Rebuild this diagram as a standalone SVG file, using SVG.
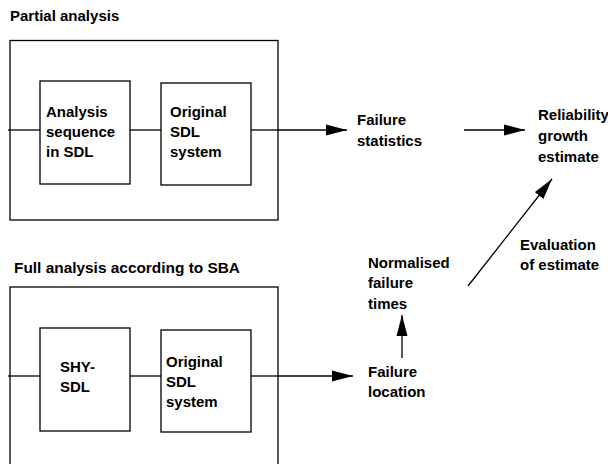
<svg xmlns="http://www.w3.org/2000/svg" width="608" height="464" viewBox="0 0 608 464">
<defs>
<style>
text{font-family:"Liberation Sans",Arial,sans-serif;font-size:15px;font-weight:bold;fill:#000}
.box{fill:none;stroke:#000;stroke-width:1.3}
.ln{fill:none;stroke:#000;stroke-width:1.3}
</style>
<marker id="ah" markerUnits="userSpaceOnUse" markerWidth="22" markerHeight="12" refX="21" refY="6" orient="auto">
<path d="M0,0.5 L21,6 L0,11.5 Z" fill="#000"/>
</marker>
</defs>
<rect width="608" height="464" fill="#fff"/>
<g id="partial">
<text x="10" y="21">Partial analysis</text>
<rect class="box" x="10" y="40.5" width="268" height="179.5"/>
</g>
<g id="analysis-seq">
<rect class="box" x="40" y="81" width="90" height="103"/>
<text x="46" y="117">Analysis</text>
<text x="46" y="137">sequence</text>
<text x="46" y="157">in SDL</text>
</g>
<g id="orig1">
<rect class="box" x="161" y="83" width="90" height="102"/>
<text x="170" y="117">Original</text>
<text x="170" y="137">SDL</text>
<text x="170" y="157">system</text>
</g>
<g id="full">
<text x="14" y="273" font-size="14" textLength="226" lengthAdjust="spacingAndGlyphs">Full analysis according to SBA</text>
<rect class="box" x="10" y="287" width="268" height="200"/>
</g>
<g id="shy">
<rect class="box" x="40" y="328" width="90" height="103"/>
<text x="60" y="372">SHY-</text>
<text x="60" y="392">SDL</text>
</g>
<g id="orig2">
<rect class="box" x="161" y="330" width="90" height="102"/>
<text x="166" y="367">Original</text>
<text x="166" y="387">SDL</text>
<text x="166" y="407">system</text>
</g>
<g id="fstat">
<text x="357" y="125">Failure</text>
<text x="357" y="146">statistics</text>
</g>
<g id="rge">
<text x="538" y="120">Reliability</text>
<text x="538" y="141">growth</text>
<text x="538" y="162">estimate</text>
</g>
<g id="eval">
<text x="520" y="250">Evaluation</text>
<text x="520" y="270">of estimate</text>
</g>
<g id="nft">
<text x="368" y="268">Normalised</text>
<text x="368" y="288">failure</text>
<text x="368" y="309">times</text>
</g>
<g id="floc">
<text x="368" y="377">Failure</text>
<text x="368" y="397">location</text>
</g>
<g id="connectors">
<line class="ln" x1="8" y1="130" x2="40" y2="130"/>
<line class="ln" x1="130" y1="130" x2="161" y2="130"/>
<line class="ln" x1="251" y1="130" x2="278" y2="130"/>
<line class="ln" x1="278" y1="130" x2="347" y2="130" marker-end="url(#ah)"/>
<line class="ln" x1="464" y1="130" x2="525" y2="130" marker-end="url(#ah)"/>
<line class="ln" x1="8" y1="376" x2="40" y2="376"/>
<line class="ln" x1="130" y1="376" x2="161" y2="376"/>
<line class="ln" x1="251" y1="376" x2="278" y2="376"/>
<line class="ln" x1="278" y1="376" x2="353" y2="376" marker-end="url(#ah)"/>
<line class="ln" x1="402" y1="358" x2="402" y2="315" marker-end="url(#ah)"/>
<line class="ln" x1="468" y1="286" x2="552" y2="179" marker-end="url(#ah)"/>
</g>
</svg>
